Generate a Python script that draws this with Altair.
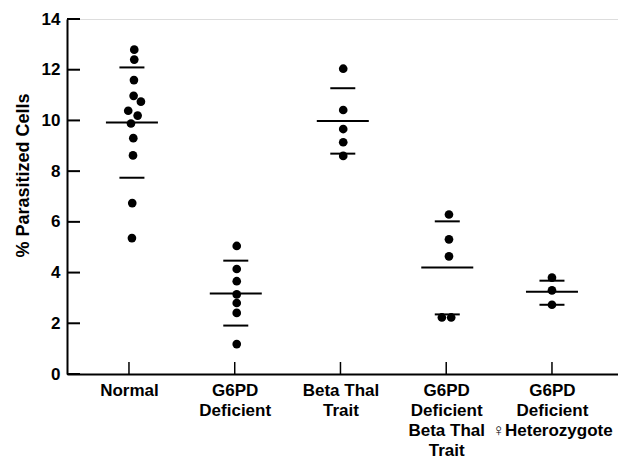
import altair as alt
import pandas as pd

# ---- data ----
groups = ["Normal", "G6PD|Deficient", "Beta Thal|Trait",
          "G6PD|Deficient|Beta Thal|Trait", "G6PD|Deficient|♀Heterozygote"]
group_pos = [1, 2, 3, 4, 5]

normal_vals = [12.79, 12.40, 11.59, 10.97, 10.74, 10.38, 10.19, 9.88, 9.30, 8.62, 6.74, 5.36]
normal_jit = [0.05, 0.05, 0.047, 0.044, 0.113, -0.007, 0.082, 0.019, 0.041, 0.038, 0.031, 0.028]
g6pd_vals = [5.05, 4.14, 3.66, 3.14, 2.80, 2.41, 1.18]
g6pd_jit = [0.019, 0.019, 0.019, 0.019, 0.019, 0.019, 0.019]
beta_vals = [12.04, 10.41, 9.66, 9.14, 8.60]
beta_jit = [0.026, 0.026, 0.026, 0.026, 0.026]
combo_vals = [6.29, 5.31, 4.64, 2.23, 2.23]
combo_jit = [0.026, 0.026, 0.026, -0.041, 0.047]
het_vals = [3.80, 3.30, 2.73]
het_jit = [0.0, 0.0, 0.0]

mean_vals = [9.92, 3.17, 9.98, 4.20, 3.24]
upper_vals = [12.09, 4.47, 11.27, 6.02, 3.68]
lower_vals = [7.74, 1.91, 8.69, 2.35, 2.73]
line_jit = [0.028, 0.01, 0.022, 0.01, 0.0]

y_ticks = [0, 2, 4, 6, 8, 10, 12, 14]

# ---- tables ----
rows = []
for pos, vals, jit in zip(group_pos,
                          [normal_vals, g6pd_vals, beta_vals, combo_vals, het_vals],
                          [normal_jit, g6pd_jit, beta_jit, combo_jit, het_jit]):
    for v, j in zip(vals, jit):
        rows.append({"x": pos + j, "v": v})
points = pd.DataFrame(rows)

lines = pd.DataFrame({"x": [p + j for p, j in zip(group_pos, line_jit)],
                      "mean": mean_vals, "upper": upper_vals, "lower": lower_vals})
sd = lines.melt(id_vars="x", value_vars=["upper", "lower"], value_name="v")
yt = pd.DataFrame({"v": y_ticks})
xt = pd.DataFrame({"x": group_pos})

W, H = 551, 355
FONT = "Liberation Sans, Arial, sans-serif"

xscale = alt.Scale(domain=[0.414, 0.414 + W / 105.75], nice=False, zero=False)
yscale = alt.Scale(domain=[0, 14], nice=False)

labels_js = "[" + ",".join("'" + g + "'" for g in groups) + "]"
label_expr = f"split({labels_js}[round(datum.value) - 1], '|')"

base_x = alt.X("x:Q", scale=xscale,
               axis=alt.Axis(values=group_pos, labelExpr=label_expr, title=None,
                             grid=False, ticks=False, tickSize=0, labelPadding=8,
                             labelFont=FONT, labelFontSize=17, labelFontWeight="bold",
                             labelLineHeight=20, labelColor="black",
                             domainColor="black", domainWidth=2, labelFlush=False,
                             labelOverlap=False))
base_y = alt.Y("v:Q", scale=yscale,
               axis=alt.Axis(values=y_ticks, title="% Parasitized Cells", grid=False,
                             ticks=False, tickSize=0, labelPadding=7,
                             labelFont=FONT, labelFontSize=17, labelFontWeight="bold",
                             labelColor="black", domainColor="black", domainWidth=2,
                             titleFont=FONT, titleFontSize=18, titleFontWeight="bold",
                             titleColor="black", titleAngle=-90, titleX=-44, titleY=156,
                             titleAlign="center", titleBaseline="middle",
                             labelFlush=False, labelOverlap=False))

pts = alt.Chart(points).mark_circle(size=75, color="black", opacity=1).encode(
    x=base_x, y=base_y)

mean_ticks = alt.Chart(lines).mark_tick(orient="horizontal", size=52, thickness=2,
                                        color="black", opacity=1).encode(
    x=alt.X("x:Q", scale=xscale), y=alt.Y("mean:Q", scale=yscale))

sd_ticks = alt.Chart(sd).mark_tick(orient="horizontal", size=25, thickness=2,
                                   color="black", opacity=1).encode(
    x=alt.X("x:Q", scale=xscale), y=alt.Y("v:Q", scale=yscale))

ytick_rules = alt.Chart(yt).mark_rule(color="black", strokeWidth=2).encode(
    y=alt.Y("v:Q", scale=yscale), x=alt.value(0), x2=alt.value(13))

xtick_rules = alt.Chart(xt).mark_rule(color="black", strokeWidth=1.5).encode(
    x=alt.X("x:Q", scale=xscale), y=alt.value(H - 12), y2=alt.value(H))

chart = alt.layer(pts, mean_ticks, sd_ticks, ytick_rules, xtick_rules).properties(
    width=W, height=H,
    autosize=alt.AutoSizeParams(type="none"),
    padding={"left": 59, "top": 11, "right": 0, "bottom": 84},
).configure_view(stroke=None).configure(background="white")

chart.save("out.html", embed_options={"renderer": "svg", "actions": False})
